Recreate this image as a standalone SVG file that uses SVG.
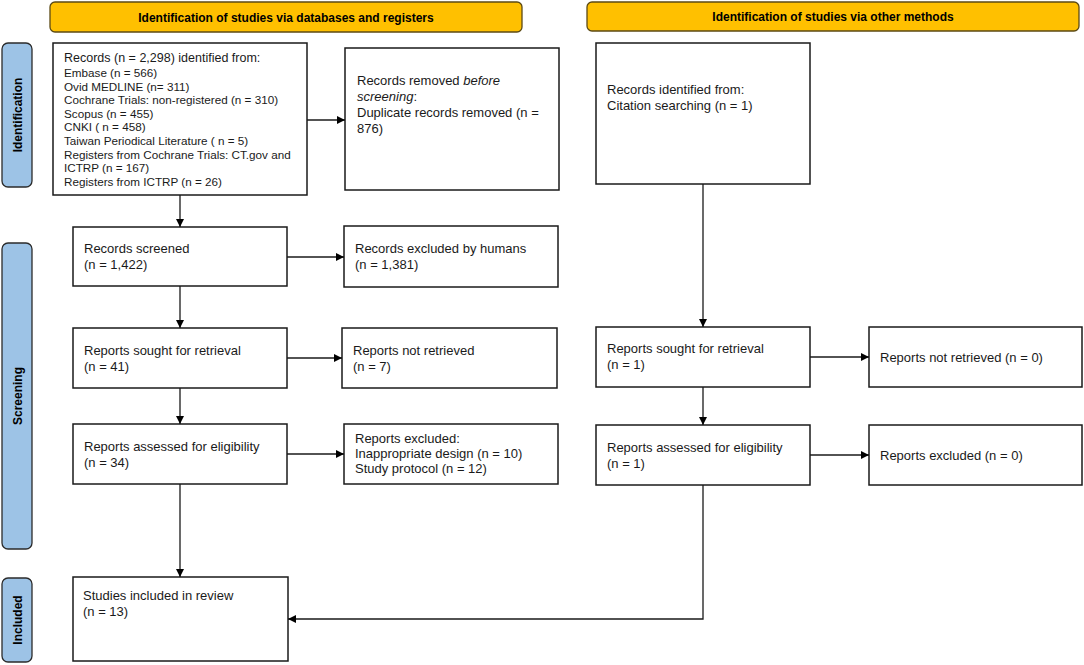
<svg xmlns="http://www.w3.org/2000/svg" width="1084" height="665" viewBox="0 0 1084 665">
<defs>
<marker id="ah" viewBox="0 0 10 10" refX="10" refY="5" markerWidth="8" markerHeight="8" markerUnits="userSpaceOnUse" orient="auto">
<path d="M0,0 L10,5 L0,10 z" fill="#000"/>
</marker>
<style>
.hdr{fill:#FFC000;stroke:#5C4A14;stroke-width:1.3}
.side{fill:#9DC3E6;stroke:#2B2B2B;stroke-width:1.3}
.box{fill:#fff;stroke:#1a1a1a;stroke-width:1.5}
.ht{font-family:"Liberation Sans",Arial,sans-serif;font-size:12px;font-weight:bold;fill:#000;text-anchor:middle}
.st{font-family:"Liberation Sans",Arial,sans-serif;font-size:12px;font-weight:bold;fill:#000;text-anchor:middle}
.t{font-family:"Liberation Sans",Arial,sans-serif;font-size:13px;fill:#1a1a1a}
.s{font-family:"Liberation Sans",Arial,sans-serif;font-size:11.7px;fill:#1a1a1a}
.c{fill:none;stroke:#1a1a1a;stroke-width:1.3}
</style>
</defs>

<g id="header-db">
<rect class="hdr" x="50" y="2" width="472" height="30" rx="5"/>
<text class="ht" x="286" y="22">Identification of studies via databases and registers</text>
</g>
<g id="header-other">
<rect class="hdr" x="587" y="2" width="492" height="29" rx="5"/>
<text class="ht" x="833" y="21">Identification of studies via other methods</text>
</g>

<g id="side-identification">
<rect class="side" x="2" y="43" width="30" height="144" rx="6"/>
<text class="st" transform="translate(21.5,115) rotate(-90)">Identification</text>
</g>
<g id="side-screening">
<rect class="side" x="2" y="243" width="30" height="306" rx="6"/>
<text class="st" transform="translate(21.5,396) rotate(-90)">Screening</text>
</g>
<g id="side-included">
<rect class="side" x="2" y="578" width="30" height="84" rx="6"/>
<text class="st" transform="translate(21.5,620) rotate(-90)">Included</text>
</g>

<g id="records-identified">
<rect class="box" x="53" y="43" width="254" height="152"/>
<text class="t" x="64" y="62" style="font-size:12.5px">Records (n = 2,298) identified from:</text>
<text class="s" x="64" y="77">Embase (n = 566)</text>
<text class="s" x="64" y="90.6">Ovid MEDLINE (n= 311)</text>
<text class="s" x="64" y="104.2">Cochrane Trials: non-registered (n = 310)</text>
<text class="s" x="64" y="117.8">Scopus  (n = 455)</text>
<text class="s" x="64" y="131.4">CNKI ( n = 458)</text>
<text class="s" x="64" y="145">Taiwan Periodical Literature ( n = 5)</text>
<text class="s" x="64" y="158.6">Registers from Cochrane Trials: CT.gov and</text>
<text class="s" x="64" y="172.2">ICTRP (n = 167)</text>
<text class="s" x="64" y="185.8">Registers from ICTRP (n = 26)</text>
</g>

<g id="records-removed">
<rect class="box" x="345" y="48" width="214" height="142"/>
<text class="t" x="357" y="85">Records removed <tspan font-style="italic">before</tspan></text>
<text class="t" x="357" y="101"><tspan font-style="italic">screening</tspan>:</text>
<text class="t" x="357" y="117">Duplicate records removed  (n =</text>
<text class="t" x="357" y="133">876)</text>
</g>

<g id="records-screened">
<rect class="box" x="73" y="227" width="214" height="59"/>
<text class="t" x="84" y="253">Records screened</text>
<text class="t" x="84" y="269">(n = 1,422)</text>
</g>

<g id="records-excluded">
<rect class="box" x="344" y="226" width="214" height="61"/>
<text class="t" x="355" y="253">Records excluded by humans</text>
<text class="t" x="355" y="269">(n = 1,381)</text>
</g>

<g id="reports-sought-db">
<rect class="box" x="73" y="328" width="214" height="60"/>
<text class="t" x="84" y="355">Reports sought for retrieval</text>
<text class="t" x="84" y="371">(n = 41)</text>
</g>

<g id="reports-not-retrieved-db">
<rect class="box" x="342" y="328" width="215" height="60"/>
<text class="t" x="353" y="355">Reports not retrieved</text>
<text class="t" x="353" y="371">(n = 7)</text>
</g>

<g id="reports-assessed-db">
<rect class="box" x="73" y="424" width="214" height="60"/>
<text class="t" x="84" y="451">Reports assessed for eligibility</text>
<text class="t" x="84" y="467">(n = 34)</text>
</g>

<g id="reports-excluded-db">
<rect class="box" x="344" y="424" width="214" height="60"/>
<text class="t" x="355" y="443">Reports excluded:</text>
<text class="t" x="355" y="458">Inappropriate design (n = 10)</text>
<text class="t" x="355" y="473">Study protocol (n = 12)</text>
</g>

<g id="studies-included">
<rect class="box" x="73" y="577" width="215" height="84"/>
<text class="t" x="83" y="600">Studies included in review</text>
<text class="t" x="83" y="616">(n = 13)</text>
</g>

<g id="records-identified-other">
<rect class="box" x="596" y="43" width="214" height="141"/>
<text class="t" x="607" y="94">Records identified from:</text>
<text class="t" x="607" y="110">Citation searching (n = 1)</text>
</g>

<g id="reports-sought-other">
<rect class="box" x="596" y="327" width="214" height="60"/>
<text class="t" x="607" y="353">Reports sought for retrieval</text>
<text class="t" x="607" y="369">(n = 1)</text>
</g>

<g id="reports-not-retrieved-other">
<rect class="box" x="869" y="327" width="213" height="60"/>
<text class="t" x="880" y="362">Reports not retrieved (n = 0)</text>
</g>

<g id="reports-assessed-other">
<rect class="box" x="596" y="425" width="214" height="60"/>
<text class="t" x="607" y="452">Reports assessed for eligibility</text>
<text class="t" x="607" y="468">(n = 1)</text>
</g>

<g id="reports-excluded-other">
<rect class="box" x="869" y="425" width="213" height="60"/>
<text class="t" x="880" y="460">Reports excluded (n = 0)</text>
</g>

<g id="connectors">
<line class="c" x1="180" y1="195" x2="180" y2="227" marker-end="url(#ah)"/>
<line class="c" x1="307" y1="120" x2="345" y2="120" marker-end="url(#ah)"/>
<line class="c" x1="180" y1="286" x2="180" y2="328" marker-end="url(#ah)"/>
<line class="c" x1="287" y1="257" x2="344" y2="257" marker-end="url(#ah)"/>
<line class="c" x1="180" y1="388" x2="180" y2="424" marker-end="url(#ah)"/>
<line class="c" x1="287" y1="358" x2="342" y2="358" marker-end="url(#ah)"/>
<line class="c" x1="287" y1="454" x2="344" y2="454" marker-end="url(#ah)"/>
<line class="c" x1="180" y1="484" x2="180" y2="577" marker-end="url(#ah)"/>
<line class="c" x1="703" y1="184" x2="703" y2="327" marker-end="url(#ah)"/>
<line class="c" x1="810" y1="357" x2="869" y2="357" marker-end="url(#ah)"/>
<line class="c" x1="703" y1="387" x2="703" y2="425" marker-end="url(#ah)"/>
<line class="c" x1="810" y1="455" x2="869" y2="455" marker-end="url(#ah)"/>
<polyline class="c" points="703,485 703,619 288,619" marker-end="url(#ah)"/>
</g>
</svg>
